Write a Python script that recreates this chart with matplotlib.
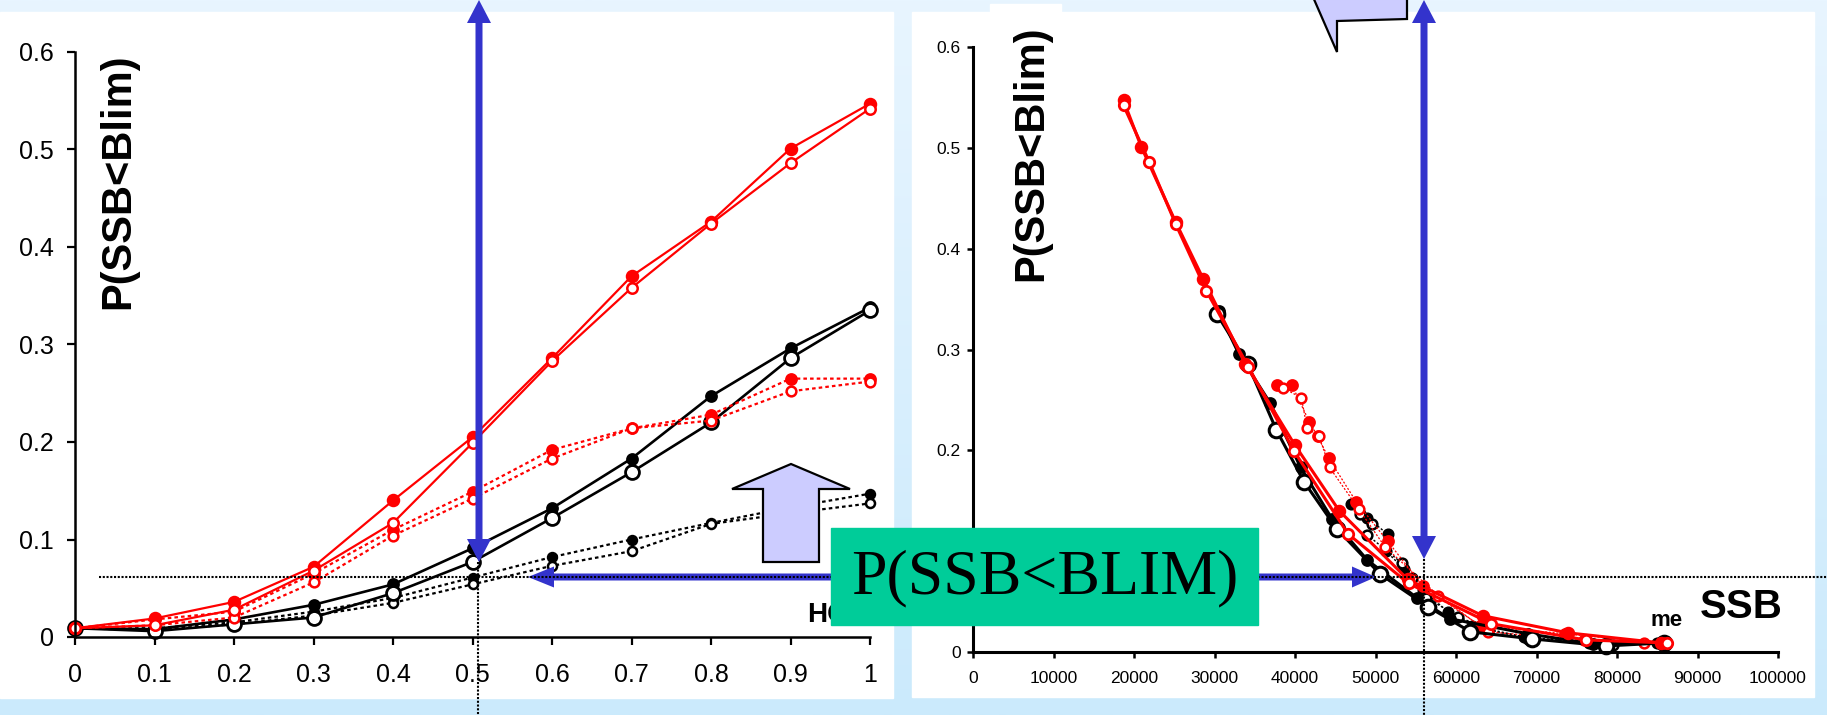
import numpy as np
import matplotlib
matplotlib.use('Agg')
import matplotlib.pyplot as plt
from matplotlib.patches import Rectangle, Polygon, FancyArrow

plt.rcParams['font.family'] = ['Liberation Sans', 'DejaVu Sans']

W, H = 1827, 715

# HCR slope on the left panel
hcr = [0, 0.1, 0.2, 0.3, 0.4, 0.5, 0.6, 0.7, 0.8, 0.9, 1.0]

# P(SSB<Blim) per HCR slope (solid = filled/open, dotted = filled/open)
p_red_fill = [0.009, 0.019, 0.036, 0.072, 0.140, 0.205, 0.286, 0.370, 0.426, 0.501, 0.547]
p_red_open = [0.009, 0.012, 0.028, 0.068, 0.117, 0.199, 0.283, 0.358, 0.424, 0.486, 0.542]
p_red_fill_d = [0.009, 0.018, 0.026, 0.065, 0.110, 0.149, 0.192, 0.214, 0.228, 0.265, 0.265]
p_red_open_d = [0.009, 0.012, 0.020, 0.056, 0.104, 0.142, 0.183, 0.214, 0.222, 0.252, 0.262]
p_blk_fill = [0.009, 0.008, 0.018, 0.033, 0.054, 0.091, 0.132, 0.183, 0.247, 0.296, 0.338]
p_blk_open = [0.009, 0.006, 0.013, 0.020, 0.045, 0.077, 0.122, 0.169, 0.220, 0.286, 0.335]
p_blk_fill_d = [0.009, 0.009, 0.015, 0.026, 0.040, 0.061, 0.082, 0.100, 0.117, 0.133, 0.147]
p_blk_open_d = [0.009, 0.007, 0.013, 0.022, 0.035, 0.054, 0.073, 0.088, 0.116, 0.127, 0.137]

# mean SSB for the same runs (right panel)
ssb_red_fill = [85500, 73900, 63300, 54000, 45500, 40000, 33800, 28600, 25200, 20900, 18700]
ssb_red_open = [86200, 76100, 64400, 54100, 46600, 39900, 34200, 29000, 25200, 21900, 18700]
ssb_red_fill_d = [85700, 73600, 63000, 55900, 51500, 47600, 44200, 42800, 41800, 39600, 37800]
ssb_red_open_d = [83400, 75900, 64000, 57800, 51200, 47900, 44300, 43000, 41500, 40800, 38500]
ssb_blk_fill = [85300, 77000, 69000, 59200, 55100, 49000, 44600, 40700, 36900, 33000, 30500]
ssb_blk_open = [85800, 78600, 69500, 61800, 56500, 50600, 45200, 41100, 37700, 34100, 30300]
ssb_blk_fill_d = [85000, 76500, 68500, 62000, 59000, 55900, 53600, 51300, 51500, 49000, 47000]
ssb_blk_open_d = [85500, 79500, 69000, 64000, 60300, 56300, 54500, 53300, 49000, 49600, 48100]

left_yticks = [0, 0.1, 0.2, 0.3, 0.4, 0.5, 0.6]
left_xticks = [0, 0.1, 0.2, 0.3, 0.4, 0.5, 0.6, 0.7, 0.8, 0.9, 1.0]
right_xticks = [0, 10000, 20000, 30000, 40000, 50000, 60000, 70000, 80000, 90000, 100000]

RED = '#FF0000'
BLUE = '#3333CC'

fig = plt.figure(figsize=(W / 100, H / 100), dpi=100)

# background gradient + white panels
bg = fig.add_axes([0, 0, 1, 1], zorder=0)
bg.set_xlim(0, W)
bg.set_ylim(H, 0)
bg.axis('off')
top = np.array([232, 245, 255]) / 255
bot = np.array([203, 234, 252]) / 255
g = np.linspace(0, 1, 256)[:, None, None]
bg.imshow(top + (bot - top) * g, extent=[0, W, H, 0], aspect='auto')
bg.add_patch(Rectangle((0, 12), 893, 686, color='white'))
bg.add_patch(Rectangle((912, 12), 902, 685, color='white'))
bg.add_patch(Rectangle((990, 4), 71, 10, color='white'))


def px_axes(x0, x1, ytop, ybot):
    ax = fig.add_axes([x0 / W, 1 - ybot / H, (x1 - x0) / W, (ybot - ytop) / H], zorder=1)
    ax.patch.set_alpha(0)
    for s in ['top', 'right']:
        ax.spines[s].set_visible(False)
    return ax


def series(ax, x, y, color, filled, dotted, ms, lw, mew):
    ls = (0, (1.6, 1.4)) if dotted else '-'
    ax.plot(x, y, color=color, lw=lw, ls=ls, marker='o', ms=ms,
            mfc=color if filled else 'white', mec=color, mew=mew, clip_on=False)


# ---- left panel: P vs HCR slope
ax1 = px_axes(75, 870, 52, 637)
series(ax1, hcr, p_blk_fill_d, 'black', True, True, 7, 1.6, 1.2)
series(ax1, hcr, p_blk_open_d, 'black', False, True, 6.5, 1.6, 1.8)
series(ax1, hcr, p_blk_fill, 'black', True, False, 8, 1.9, 1.2)
series(ax1, hcr, p_blk_open, 'black', False, False, 10, 1.9, 2.0)
series(ax1, hcr, p_red_fill_d, RED, True, True, 8, 1.6, 1.2)
series(ax1, hcr, p_red_open_d, RED, False, True, 7, 1.6, 1.8)
series(ax1, hcr, p_red_fill, RED, True, False, 8.5, 1.6, 1.2)
series(ax1, hcr, p_red_open, RED, False, False, 7.5, 1.6, 1.8)
ax1.set_xlim(0, 1)
ax1.set_ylim(0, 0.6)
ax1.set_xticks(left_xticks, [f'{v:g}' for v in left_xticks])
ax1.set_yticks(left_yticks, [f'{v:g}' for v in left_yticks])
ax1.tick_params(labelsize=18, length=6, width=1.6)
ax1.tick_params(axis='x', pad=13)
ax1.tick_params(axis='y', pad=9)
for s in ['left', 'bottom']:
    ax1.spines[s].set_linewidth(1.8)

# ---- right panel: P vs mean SSB
ax2 = px_axes(973, 1778, 47, 652)
series(ax2, ssb_blk_fill_d, p_blk_fill_d, 'black', True, True, 7.5, 1.0, 1.2)
series(ax2, ssb_blk_open_d, p_blk_open_d, 'black', False, True, 7, 1.0, 1.8)
series(ax2, ssb_red_fill_d, p_red_fill_d, RED, True, True, 8, 0.9, 1.2)
series(ax2, ssb_red_open_d, p_red_open_d, RED, False, True, 7, 0.9, 1.8)
series(ax2, ssb_blk_fill, p_blk_fill, 'black', True, False, 8, 2.2, 1.2)
series(ax2, ssb_blk_open, p_blk_open, 'black', False, False, 10.5, 2.2, 2.2)
series(ax2, ssb_red_fill, p_red_fill, RED, True, False, 8.5, 2.2, 1.2)
series(ax2, ssb_red_open, p_red_open, RED, False, False, 7.5, 2.2, 2.0)
ax2.set_xlim(0, 100000)
ax2.set_ylim(0, 0.6)
ax2.set_xticks(right_xticks, [f'{v:d}' for v in right_xticks])
ax2.set_yticks(left_yticks, [f'{v:g}' for v in left_yticks])
ax2.tick_params(labelsize=12.5, length=4, width=1.8)
ax2.tick_params(axis='x', pad=10)
ax2.tick_params(axis='y', pad=5)
for s in ['left', 'bottom']:
    ax2.spines[s].set_linewidth(2.2)

# ---- overlay annotations in pixel coordinates
ov = fig.add_axes([0, 0, 1, 1], zorder=3)
ov.set_xlim(0, W)
ov.set_ylim(H, 0)
ov.axis('off')
ov.patch.set_alpha(0)

fig.text(118 / W, 1 - 53 / H, 'P(SSB<Blim)', rotation=90, ha='center', va='top',
         fontsize=30, fontweight='bold', zorder=5)
fig.text(1031 / W, 1 - 25 / H, 'P(SSB<Blim)', rotation=90, ha='center', va='top',
         fontsize=30, fontweight='bold', zorder=5)

dots = dict(color='black', lw=1.5, ls=(0, (1, 0.8)))
ov.plot([99, W], [577, 577], **dots)
ov.plot([478, 478], [562, H], **dots)
ov.plot([1424, 1424], [559, H], **dots)

# lavender block arrows
ov.add_patch(Polygon([(763, 562), (763, 489), (732, 489), (791, 464), (850, 489),
                      (819, 489), (819, 562)], closed=True, fc='#CCCCFF', ec='black', lw=1.6))
ov.add_patch(Polygon([(1313, -3), (1337, 52), (1337, 21), (1407, 19), (1407, -3)],
                     closed=True, fc='#CCCCFF', ec='black', lw=1.6))

arr = dict(width=7, length_includes_head=True, color=BLUE, lw=0)
# vertical double arrows
ov.add_patch(FancyArrow(479, 280, 0, -280, head_width=24, head_length=23, **arr))
ov.add_patch(FancyArrow(479, 280, 0, 282, head_width=24, head_length=23, **arr))
ov.add_patch(FancyArrow(1424, 280, 0, -280, head_width=24, head_length=23, **arr))
ov.add_patch(FancyArrow(1424, 280, 0, 279, head_width=24, head_length=23, **arr))
# horizontal arrows from the label box
ov.add_patch(FancyArrow(835, 577, -307, 0, head_width=21, head_length=26, **arr))
ov.add_patch(FancyArrow(1255, 577, 121, 0, head_width=21, head_length=24, **arr))

hc = ov.text(807, 615, 'HC', ha='left', va='center', fontsize=20, fontweight='bold')
hc.set_clip_path(Rectangle((700, 590), 131, 50, transform=ov.transData))
ov.add_patch(Rectangle((831, 528), 427, 97, color='#00CC99', zorder=4))
ov.text(1045, 578, 'P(SSB<BLIM)', ha='center', va='center', fontsize=46,
        family='Liberation Serif', zorder=5)

ov.text(1651, 620, 'me', ha='left', va='center', fontsize=16, fontweight='bold')
ov.text(1700, 607, 'SSB', ha='left', va='center', fontsize=29, fontweight='bold')

fig.savefig('out.png', dpi=100)
